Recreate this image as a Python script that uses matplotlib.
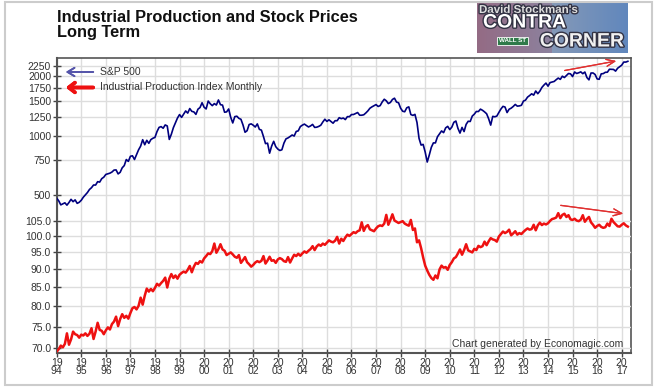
import numpy as np
import matplotlib
matplotlib.use("Agg")
import matplotlib.pyplot as plt
import matplotlib.patheffects as pe
from matplotlib.patches import Rectangle
from matplotlib.ticker import FixedLocator, FixedFormatter, NullLocator

plt.rcParams['font.family'] = ['Liberation Sans', 'DejaVu Sans']

W, H = 659, 390

# S&P 500 monthly closes, Jan 1994 .. Apr 2017
sp500 = [
    481.6, 467.1, 445.8, 450.9, 456.5, 444.3, 458.3, 475.5, 462.7, 472.4, 453.7, 459.3,
    470.4, 487.4, 500.7, 514.7, 533.4, 544.8, 562.1, 561.9, 584.4, 581.5, 605.4, 615.9,
    636.0, 640.4, 645.5, 654.2, 669.1, 670.6, 639.9, 652.0, 687.3, 705.3, 757.0, 740.7,
    786.2, 790.8, 757.1, 801.3, 848.3, 885.1, 954.3, 899.5, 947.3, 914.6, 955.4, 970.4,
    980.3, 1049.3, 1101.8, 1111.8, 1090.8, 1133.8, 1120.7, 957.3, 1017.0, 1098.7, 1163.6, 1229.2,
    1279.6, 1238.3, 1286.4, 1335.2, 1301.8, 1372.7, 1328.7, 1320.4, 1282.7, 1362.9, 1388.9, 1469.3,
    1394.5, 1366.4, 1498.6, 1452.4, 1420.6, 1454.6, 1430.8, 1517.7, 1436.5, 1429.4, 1315.2, 1320.3,
    1366.0, 1239.9, 1160.3, 1249.5, 1255.8, 1224.4, 1211.2, 1133.6, 1040.9, 1059.8, 1139.5, 1148.1,
    1130.2, 1106.7, 1147.4, 1076.9, 1067.1, 989.8, 911.6, 916.1, 815.3, 885.8, 936.3, 879.8,
    855.7, 841.2, 848.2, 916.9, 963.6, 974.5, 990.3, 1008.0, 996.0, 1050.7, 1058.2, 1111.9,
    1131.1, 1144.9, 1126.2, 1107.3, 1120.7, 1140.8, 1101.7, 1104.2, 1114.6, 1130.2, 1173.8, 1211.9,
    1181.3, 1203.6, 1180.6, 1156.9, 1191.5, 1191.3, 1234.2, 1220.3, 1228.8, 1207.0, 1249.5, 1248.3,
    1280.1, 1280.7, 1294.9, 1310.6, 1270.1, 1270.2, 1276.7, 1303.8, 1335.9, 1377.9, 1400.6, 1418.3,
    1438.2, 1406.8, 1420.9, 1482.4, 1530.6, 1503.4, 1455.3, 1474.0, 1526.8, 1549.4, 1481.1, 1468.4,
    1378.6, 1330.6, 1322.7, 1385.6, 1400.4, 1280.0, 1267.4, 1282.8, 1166.4, 968.8, 896.2, 903.3,
    825.9, 735.1, 797.9, 872.8, 919.1, 919.3, 987.5, 1020.6, 1057.1, 1036.2, 1095.6, 1115.1,
    1073.9, 1104.5, 1169.4, 1186.7, 1089.4, 1030.7, 1101.6, 1049.3, 1141.2, 1183.3, 1180.6, 1257.6,
    1286.1, 1327.2, 1325.8, 1363.6, 1345.2, 1320.6, 1292.3, 1218.9, 1131.4, 1253.3, 1247.0, 1257.6,
    1312.4, 1365.7, 1408.5, 1397.9, 1310.3, 1362.2, 1379.3, 1406.6, 1440.7, 1412.2, 1416.2, 1426.2,
    1498.1, 1514.7, 1569.2, 1597.6, 1630.7, 1606.3, 1685.7, 1633.0, 1681.6, 1756.5, 1805.8, 1848.4,
    1782.6, 1859.5, 1872.3, 1884.0, 1923.6, 1960.2, 1930.7, 2003.4, 1972.3, 2018.1, 2067.6, 2058.9,
    1995.0, 2104.5, 2067.9, 2085.5, 2107.4, 2063.1, 2103.8, 1972.2, 1920.0, 2079.4, 2080.4, 2043.9,
    1940.2, 1932.2, 2059.7, 2065.3, 2097.0, 2098.9, 2173.6, 2171.0, 2168.3, 2126.2, 2198.8, 2238.8,
    2278.9, 2363.6, 2362.7, 2384.2,
]

# Industrial production index, monthly (not seasonally adjusted), Jan 1994 .. Apr 2017
indpro = [
    69.3, 69.8, 70.6, 70.2, 71.0, 73.4, 70.8, 72.0, 73.8, 73.2, 73.0, 72.4,
    73.1, 72.9, 73.4, 72.8, 73.3, 74.6, 72.1, 73.8, 75.9, 74.2, 74.0, 73.2,
    74.1, 74.8, 74.3, 75.6, 76.2, 77.4, 75.1, 76.8, 78.0, 77.1, 77.6, 76.9,
    78.3, 79.5, 79.8, 79.2, 80.1, 82.2, 80.4, 82.7, 84.6, 83.8, 84.5, 83.9,
    84.8, 85.9, 85.4, 86.1, 86.7, 87.6, 84.9, 87.3, 88.6, 87.5, 88.2, 87.3,
    88.4, 88.9, 89.3, 89.0, 89.8, 90.9, 89.1, 90.7, 91.8, 91.5, 92.3, 91.9,
    93.1, 93.8, 94.6, 94.4, 95.3, 97.6, 94.8, 95.9, 97.4, 95.8, 95.4, 94.1,
    94.5, 94.9, 94.3, 93.6, 93.3, 94.1, 91.8, 92.6, 93.5, 92.0, 91.4, 90.7,
    91.2, 91.9, 92.3, 92.0, 92.4, 93.8, 91.6, 92.5, 93.6, 92.4, 92.6, 91.8,
    92.8, 93.2, 92.9, 92.3, 92.1, 93.5, 91.9, 93.1, 94.2, 93.8, 94.5, 93.9,
    94.6, 95.2, 94.8, 95.4, 95.9, 96.8, 95.6, 96.7, 97.3, 96.9, 97.6, 97.2,
    97.9, 98.6, 98.2, 98.0, 98.5, 99.7, 97.6, 99.1, 98.4, 99.5, 100.4, 100.0,
    100.6, 101.2, 100.9, 101.5, 101.8, 104.4, 101.6, 103.0, 103.5, 102.1, 101.8, 101.5,
    102.4, 103.1, 103.4, 103.2, 104.0, 106.9, 103.6, 105.2, 107.1, 105.0, 104.6, 104.2,
    104.5, 104.8, 104.0, 103.6, 103.3, 105.2, 101.9, 102.4, 98.0, 98.6, 96.2, 93.4,
    91.0, 89.6, 88.4, 87.5, 87.0, 88.2, 87.4, 89.9, 91.0, 90.4, 90.6, 89.8,
    91.2, 92.0, 93.1, 93.5, 94.6, 95.8, 94.2, 95.6, 97.4, 95.5, 95.2, 94.9,
    96.0, 95.6, 96.9, 96.5, 96.8, 98.2, 97.1, 98.3, 99.3, 98.9, 98.7, 98.2,
    99.8, 100.6, 101.4, 100.9, 101.3, 102.0, 100.2, 100.8, 101.5, 100.4, 100.9, 100.6,
    101.3, 101.9, 102.4, 102.0, 102.2, 103.6, 101.8, 103.4, 104.3, 103.5, 104.0, 103.7,
    104.1, 104.9, 105.5, 105.7, 106.0, 107.5, 105.8, 106.9, 107.3, 106.2, 106.8, 105.4,
    105.2, 105.6, 105.0, 104.8, 105.3, 106.8, 104.6, 105.5, 106.2, 104.4, 103.6, 102.6,
    103.2, 103.6, 102.9, 102.6, 102.8, 104.0, 103.2, 105.6, 104.5, 103.8, 103.1, 103.0,
    103.6, 104.1, 103.4, 103.0,
]

sp_ticks = [500, 750, 1000, 1250, 1500, 1750, 2000, 2250]
ip_ticks = [70.0, 75.0, 80.0, 85.0, 90.0, 95.0, 100.0, 105.0]
years = list(range(1994, 2018))
year_labels = [f"{str(y)[:2]}\n{str(y)[2:]}" for y in years]

months = 1994 + np.arange(len(sp500)) / 12.0

sp_color = "#00007f"
ip_color = "#ee1111"
txt_color = "#333333"
grid_color = "#dddddd"


def fx(px):
    return px / W


def fy(py):
    return 1 - py / H


fig = plt.figure(figsize=(W / 100, H / 100), dpi=100)

# outer frame
fig.patches.append(Rectangle((fx(5), fy(385)), fx(647), (385 - 2) / H,
                             transform=fig.transFigure, fill=False,
                             edgecolor="#cccccc", linewidth=1.5))

rect = [fx(56.7), fy(353), fx(630.7 - 56.7), (353 - 58) / H]
ax = fig.add_axes(rect)
ax2 = fig.add_axes(rect, sharex=ax)
ax2.patch.set_visible(False)

# upper series: S&P 500 (log)
ax.plot(months, sp500, color=sp_color, linewidth=1.2, zorder=3)
ax.set_yscale("log")
ax.set_ylim(79.0, 2478)
ax.yaxis.set_major_locator(FixedLocator(sp_ticks))
ax.yaxis.set_major_formatter(FixedFormatter([str(t) for t in sp_ticks]))
ax.yaxis.set_minor_locator(NullLocator())

# lower series: industrial production (log)
ax2.plot(months, indpro, color=ip_color, linewidth=1.8, zorder=3)
ax2.set_yscale("log")
ax2.set_ylim(68.96, 175.9)
ax2.yaxis.set_major_locator(FixedLocator(ip_ticks))
ax2.yaxis.set_major_formatter(FixedFormatter([f"{t:.1f}" for t in ip_ticks]))
ax2.yaxis.set_minor_locator(NullLocator())

ax.set_xlim(1994, 2017.366)
ax.set_xticks(years)
ax.set_xticklabels(year_labels, linespacing=0.75)

for a in (ax, ax2):
    a.grid(True, axis="y", color=grid_color, linewidth=1)
    a.tick_params(axis="y", direction="inout", length=6, width=1,
                  color="#444444", labelsize=7.5, labelcolor=txt_color, pad=1)
    a.set_axisbelow(True)
ax.grid(True, axis="x", color=grid_color, linewidth=1)
ax.tick_params(axis="x", direction="inout", length=6, width=1,
               color="#444444", labelsize=7.5, labelcolor=txt_color, pad=0.5)
ax2.tick_params(axis="x", bottom=False, labelbottom=False)

for s in ax.spines.values():
    s.set_color("#555555")
    s.set_linewidth(1.2)
ax.spines["left"].set_linewidth(1.5)
ax.spines["bottom"].set_linewidth(1.5)
for s in ax2.spines.values():
    s.set_visible(False)

# title
fig.text(fx(57), fy(21.7), "Industrial Production and Stock Prices",
         fontsize=11.8, weight="bold", color="#111111", va="baseline")
fig.text(fx(57), fy(37), "Long Term",
         fontsize=11.8, weight="bold", color="#111111", va="baseline")

# legend arrows
fig.text(fx(100), fy(72), "S&P 500", fontsize=7.5, color=txt_color, va="center")
fig.text(fx(100), fy(87.5), "Industrial Production Index Monthly", fontsize=7.5,
         color=txt_color, va="center")
fig.add_artist(plt.annotate("", xy=(fx(63), fy(72)), xytext=(fx(96), fy(72)),
                            xycoords="figure fraction", textcoords="figure fraction",
                            arrowprops=dict(arrowstyle="->,head_length=0.5,head_width=0.3",
                                            color="#5555aa", lw=1.3)))
fig.add_artist(plt.annotate("", xy=(fx(63), fy(87.5)), xytext=(fx(96), fy(87.5)),
                            xycoords="figure fraction", textcoords="figure fraction",
                            arrowprops=dict(arrowstyle="->,head_length=0.45,head_width=0.35",
                                            color="#ee1111", lw=2.6)))

# trend arrows
for (x0, y0, x1, y1) in [(562, 71, 619, 60.5), (558, 205, 626, 214)]:
    fig.add_artist(plt.annotate("", xy=(fx(x1), fy(y1)), xytext=(fx(x0), fy(y0)),
                                xycoords="figure fraction", textcoords="figure fraction",
                                arrowprops=dict(arrowstyle="->,head_length=0.6,head_width=0.25",
                                                color="#e03030", lw=0.9)))

fig.text(fx(452), fy(347), "Chart generated by Economagic.com", fontsize=7.5,
         color=txt_color, va="baseline")

# logo
lax = fig.add_axes([fx(477), fy(53), fx(151), 50 / H])
grad = np.linspace(0, 1, 151)
c0 = np.array([0.58, 0.42, 0.52])
c1 = np.array([0.52, 0.60, 0.72])
c2 = np.array([0.38, 0.53, 0.74])
img = np.zeros((50, 151, 3))
for i, g in enumerate(grad):
    img[:, i] = c0 * (1 - g) + c1 * g if g < 0.5 else c1 * (2 - 2 * g) + c2 * (2 * g - 1)
lax.imshow(img, aspect="auto", extent=(0, 151, 50, 0))
lax.set_xlim(0, 151)
lax.set_ylim(50, 0)
lax.axis("off")
shadow = [pe.withStroke(linewidth=2, foreground="#333344")]
lax.text(2, 7, "David Stockman's", fontsize=8.3, weight="bold", color="#dddddd",
         va="center", ha="left", path_effects=shadow)
lax.text(6, 20, "CONTRA", fontsize=14, weight="bold", color="white",
         va="center", ha="left", path_effects=shadow)
lax.text(147, 39, "CORNER", fontsize=14, weight="bold", color="#f0f0f0",
         va="center", ha="right", path_effects=shadow)
lax.add_patch(Rectangle((20, 34), 31, 8, facecolor="#2f7a4a", edgecolor="white", lw=0.6))
lax.text(35.5, 38, "WALL ST", fontsize=4.5, weight="bold", color="white",
         ha="center", va="center")

fig.savefig("out.png", dpi=100)
